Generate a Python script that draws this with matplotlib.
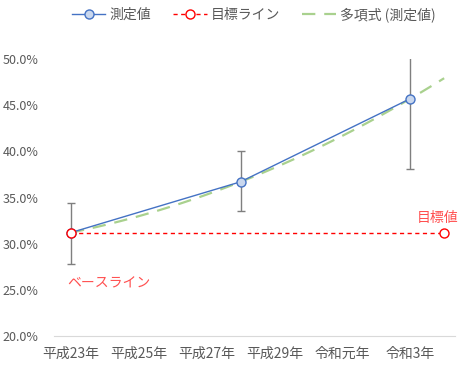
import numpy as np
import matplotlib.pyplot as plt
from matplotlib.ticker import PercentFormatter

plt.rcParams['font.family'] = ['Noto Sans CJK JP', 'DejaVu Sans']

# Survey years (western calendar) and measured rates
years = [2011, 2016, 2021]
rate = [31.2, 36.7, 45.7]
err_low = [27.8, 33.5, 38.1]
err_high = [34.4, 40.0, 50.6]

# Target line: baseline value held flat until the goal year
target_years = [2011, 2022]
target_rate = [31.2, 31.2]

tick_years = [2011, 2013, 2015, 2017, 2019, 2021]
tick_labels = ['平成23年', '平成25年', '平成27年', '平成29年', '令和元年', '令和3年']

gray = '#595959'
blue = '#4472C4'
red = '#FF0000'
green = '#A9D18E'

fig = plt.figure(figsize=(4.59, 3.67), dpi=100)
ax = fig.add_axes([54 / 459, 1 - 336 / 367, 401 / 459, 277 / 367])

# 2nd order polynomial trend, extended one period forward
coef = np.polyfit(np.array(years) - years[0], rate, 2)
xt = np.linspace(years[0], 2022, 100)
ax.plot(xt, np.polyval(coef, xt - years[0]), color=green, lw=1.6,
        dashes=(6, 4), label='多項式 (測定値)', zorder=2)

yerr = [np.array(rate) - np.array(err_low), np.array(err_high) - np.array(rate)]
ax.errorbar(years, rate, yerr=yerr, fmt='none', ecolor='#7F7F7F',
            elinewidth=1.0, capsize=3, capthick=1.0, zorder=1)
ax.plot(years, rate, color=blue, lw=1.0, marker='o', ms=6.5,
        mfc='#C9D7EE', mec=blue, mew=1.0, label='測定値', zorder=3)

ax.plot(target_years, target_rate, color=red, lw=1.0, dashes=(3, 2.5),
        marker='o', ms=6.5, mfc='white', mec=red, mew=1.0,
        label='目標ライン', zorder=4)

ax.text(years[0] - 0.12, 25.7, 'ベースライン', color='#FF5050', fontsize=10,
        ha='left', va='center')
ax.text(target_years[1] - 0.2, 32.8, '目標値', color='#FF5050', fontsize=10,
        ha='center', va='center')

ax.set_xlim(2010.5, 2022.32)
ax.set_ylim(20, 50)
ax.set_yticks(np.arange(20, 50.1, 5))
ax.yaxis.set_major_formatter(PercentFormatter(decimals=1))
ax.set_xticks(tick_years)
ax.set_xticklabels(tick_labels)
ax.tick_params(length=0, colors=gray, labelsize=9)
ax.tick_params(axis='x', pad=8, labelsize=10)
ax.tick_params(axis='y', pad=11)
for side in ['top', 'right', 'left']:
    ax.spines[side].set_visible(False)
ax.spines['bottom'].set_color('#D9D9D9')

handles, labels = ax.get_legend_handles_labels()
order = [1, 2, 0]
leg = fig.legend([handles[i] for i in order], [labels[i] for i in order],
                 loc='upper center', bbox_to_anchor=(0.553, 1.015), ncol=3,
                 frameon=False, fontsize=10, handlelength=2.4,
                 columnspacing=1.6, handletextpad=0.3)
for t in leg.get_texts():
    t.set_color(gray)

plt.savefig('out.png', dpi=100)
